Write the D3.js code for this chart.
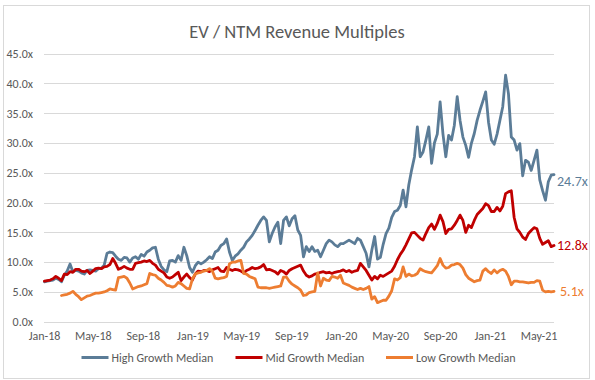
<!DOCTYPE html>
<html><head><meta charset="utf-8">
<script src="https://cdn.jsdelivr.net/npm/d3@7"></script>
<style>html,body{margin:0;padding:0;background:#fff}svg{display:block}text{font-family:Carlito,Calibri,Lato,"Liberation Sans",sans-serif}</style>
</head><body><svg id="c" width="595" height="380"></svg>
<script>
const title = "EV / NTM Revenue Multiples";
const seriesNames = ["High Growth Median","Mid Growth Median","Low Growth Median"];
const endLabels = ["24.7x","12.8x","5.1x"];
const xTickLabels = ["Jan-18","May-18","Sep-18","Jan-19","May-19","Sep-19","Jan-20","May-20","Sep-20","Jan-21","May-21"];
const yTicks = [0,5,10,15,20,25,30,35,40,45];
const firstDate = new Date(2018,0,2);
const lastDate = new Date(2021,5,8);
// weekly observations starting firstDate
const highGrowth = [
6.7,6.8,6.9,7.0,7.3,7.1,6.7,7.8,8.5,9.7,
8.4,8.6,8.5,8.2,8.0,8.6,8.7,8.6,8.5,8.9,
9.0,9.5,11.5,11.7,11.6,11.0,10.5,10.3,10.8,10.7,
10.0,10.7,10.9,10.5,11.3,11.0,11.7,12.0,12.4,12.5,
10.5,9.3,8.7,8.4,10.2,10.3,10.0,11.1,10.3,12.5,
11.1,9.1,8.3,9.4,10.0,9.7,10.0,10.4,10.9,10.6,
11.7,12.0,12.8,13.1,13.9,11.7,10.3,11.0,11.4,12.0,
12.5,13.4,13.9,14.5,15.3,16.2,17.0,17.6,17.0,13.4,
14.8,15.9,16.7,13.1,17.0,17.6,16.1,17.3,17.8,15.4,
14.5,10.9,12.6,11.8,12.6,11.8,12.0,10.9,12.0,13.1,
13.7,13.4,12.9,12.6,13.1,13.1,13.4,13.7,13.4,13.1,
14.0,13.7,12.6,11.5,9.2,12.0,14.3,10.5,10.8,13.0,
14.8,15.7,17.5,18.5,18.7,19.5,22.1,19.3,23.0,25.5,
27.7,32.7,27.7,28.5,30.5,32.7,26.6,30.0,31.5,36.9,
31.5,27.7,31.3,30.5,33.0,37.8,33.8,31.0,29.6,27.6,
30.0,31.6,33.8,35.5,37.0,38.6,33.5,30.5,29.8,31.5,
33.8,36.1,41.4,38.3,31.0,30.5,28.8,29.9,24.5,27.1,
26.8,25.4,27.1,28.8,23.8,22.0,20.4,23.5,24.6,24.7];
const midGrowth = [
6.8,6.9,7.0,7.2,7.6,7.3,6.9,8.0,7.9,8.4,
8.3,8.8,8.8,8.5,8.4,8.6,8.1,8.5,8.9,9.0,
8.9,9.2,9.3,9.6,10.6,9.8,8.8,9.0,9.3,9.0,
8.8,8.8,9.8,9.9,10.0,10.2,10.1,10.3,9.8,9.5,
8.8,8.5,8.2,7.5,7.3,7.5,7.9,8.3,6.9,7.5,
8.0,7.4,7.0,8.0,8.5,8.4,8.6,8.6,8.4,8.7,
8.9,9.1,8.5,8.4,9.1,8.8,8.6,8.8,8.7,8.5,
8.2,8.6,8.8,9.1,8.9,9.0,9.2,9.6,8.7,8.8,
8.6,8.4,8.0,8.6,8.4,8.0,8.6,8.9,9.1,9.3,
9.5,8.5,7.8,7.5,7.7,8.0,8.1,8.3,8.4,8.2,
8.3,8.1,8.3,8.4,8.5,8.7,8.4,8.6,8.3,8.5,
8.6,9.8,9.2,8.6,7.8,7.0,7.6,7.2,7.8,7.6,
7.9,8.2,8.5,9.3,10.4,11.3,12.0,12.9,13.9,14.9,
15.0,14.5,14.0,13.7,14.8,15.8,16.4,15.5,16.5,17.9,
16.8,14.8,15.5,15.6,16.2,17.0,17.9,17.0,15.0,16.2,
15.8,17.0,18.0,18.5,19.0,19.8,19.5,18.5,18.5,19.2,
18.6,19.4,21.5,21.8,22.0,17.5,15.6,15.0,14.2,13.8,
14.8,15.3,15.8,15.6,14.0,13.0,13.3,13.6,12.6,12.8];
const lowGrowth = [
null,null,null,null,null,null,
4.4,4.5,4.6,4.8,5.1,4.6,4.2,3.7,4.0,4.3,
4.4,4.6,4.8,4.8,4.9,5.0,5.2,5.5,5.4,5.3,
7.4,7.5,7.6,7.3,6.5,5.5,5.7,5.9,6.0,6.2,
6.4,8.1,7.9,7.8,7.3,7.0,6.6,6.1,6.0,5.8,
6.0,6.6,6.4,6.0,5.6,5.5,7.2,8.0,8.2,8.3,
8.5,8.6,8.9,8.5,7.3,7.2,7.3,7.4,7.6,9.7,
10.0,10.0,10.2,10.3,8.1,8.0,7.6,7.4,7.2,5.8,
5.7,5.7,5.7,5.6,5.7,5.8,5.9,6.0,7.5,7.5,
6.8,6.3,6.0,5.7,5.3,4.4,4.5,4.9,5.0,5.1,
8.2,6.0,7.3,7.0,6.9,7.6,7.5,7.3,7.8,6.5,
6.3,6.1,5.8,5.6,5.4,5.6,5.4,5.6,5.9,3.8,
4.2,3.2,3.4,3.6,3.6,4.3,5.2,7.2,7.0,7.4,
9.2,7.6,8.0,7.7,7.8,8.1,8.9,8.6,8.4,8.3,
8.2,8.8,9.4,10.6,9.5,9.0,9.1,9.5,9.6,9.8,
9.6,9.0,7.9,7.3,7.0,6.7,6.9,7.0,8.5,8.9,
8.4,8.1,8.7,8.2,8.6,8.8,8.5,7.6,6.2,6.8,
6.8,6.7,6.7,6.6,6.5,6.6,6.6,6.9,6.8,5.3,
5.0,5.1,5.0,5.1];
const colors = ["#5B7C97","#C00000","#ED7D31"];

const dates = highGrowth.map((_, i) => d3.timeDay.offset(firstDate, 7 * i));
const tickDates = xTickLabels.map(s => d3.timeParse("%b-%y")(s));

const svg = d3.select("#c");
const M = {l:44, r:554, t:53.7, b:321.7};
const x = d3.scaleTime().domain([new Date(2018,0,1), lastDate]).range([M.l, M.r]);
const y = d3.scaleLinear().domain([0,45]).range([M.b, M.t]);

// chart border
svg.append("rect").attr("x",3.5).attr("y",5.5).attr("width",586).attr("height",373)
  .attr("fill","#fff").attr("stroke","#d9d9d9").attr("stroke-width",1);

// title
svg.append("text").attr("x",297).attr("y",38).attr("text-anchor","middle")
  .attr("font-size",18.5).attr("fill","#595959").text(title);

// gridlines
svg.append("g").selectAll("line").data(yTicks).join("line")
  .attr("x1",M.l).attr("x2",M.r)
  .attr("y1",d=>Math.round(y(d))+0.5).attr("y2",d=>Math.round(y(d))+0.5)
  .attr("stroke","#d9d9d9").attr("stroke-width",1);

// y axis labels
const yAxis = d3.axisLeft(y).tickValues(yTicks).tickFormat(d=>d3.format(".1f")(d)+"x").tickSize(0).tickPadding(0);
const gy = svg.append("g").attr("transform",`translate(33,0)`).call(yAxis);
gy.select(".domain").remove();
gy.selectAll("text").attr("font-size",12).attr("fill","#595959").attr("font-family",null);

// x axis labels
const xAxis = d3.axisBottom(x).tickValues(tickDates).tickFormat(d3.timeFormat("%b-%y")).tickSize(0).tickPadding(0);
const gx = svg.append("g").attr("transform",`translate(0,${M.b+10})`).call(xAxis);
gx.select(".domain").remove();
gx.selectAll("text").attr("font-size",12).attr("fill","#595959").attr("font-family",null);

// lines
const allSeries = [highGrowth, midGrowth, lowGrowth];
const line = d3.line().defined(d=>d.v!=null).x(d=>x(d.date)).y(d=>y(d.v));
allSeries.forEach((s,i)=>{
  svg.append("path").datum(s.map((v,j)=>({date:dates[j], v})))
    .attr("fill","none").attr("stroke",colors[i]).attr("stroke-width",2.8)
    .attr("stroke-linejoin","round").attr("stroke-linecap","round").attr("d",line);
});

// end labels
const labelDx = [3,3,6], labelDy = [7,0,0];
allSeries.forEach((s,i)=>{
  const last = s[s.length-1];
  svg.append("text").attr("x", M.r + labelDx[i]).attr("y", y(last) + labelDy[i]).attr("dy","0.35em")
    .attr("font-size",14).attr("fill",colors[i]).text(endLabels[i]);
});

// legend
const legX = [81.5, 235.5, 386];
const legY = 357.5;
seriesNames.forEach((n,i)=>{
  svg.append("line").attr("x1",legX[i]).attr("x2",legX[i]+27).attr("y1",legY).attr("y2",legY)
    .attr("stroke",colors[i]).attr("stroke-width",3);
  svg.append("text").attr("x",legX[i]+30).attr("y",legY).attr("dy","0.35em")
    .attr("font-size",12).attr("fill","#595959").text(n);
});
</script></body></html>
